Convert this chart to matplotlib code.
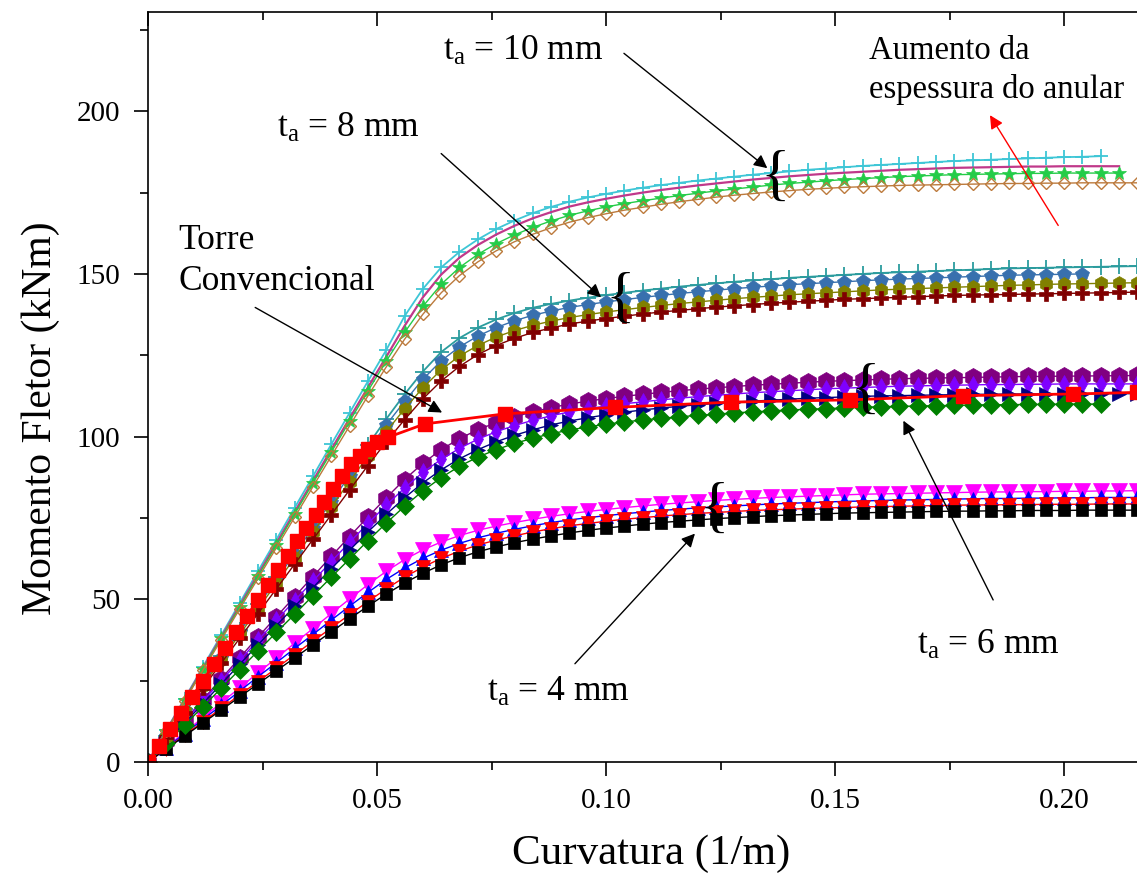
import matplotlib
matplotlib.use('Agg')
import matplotlib.pyplot as plt

plt.rcParams['font.family'] = ['Liberation Serif', 'DejaVu Serif']
plt.rcParams['mathtext.fontset'] = 'custom'
plt.rcParams['mathtext.rm'] = 'Liberation Serif'
plt.rcParams['mathtext.it'] = 'Liberation Serif:italic'

# curvature grid shared by the numerical curves (1/m)
curv = [0.000, 0.004, 0.008, 0.012, 0.016, 0.020, 0.024, 0.028, 0.032, 0.036,
        0.040, 0.044, 0.048, 0.052, 0.056, 0.060, 0.064, 0.068, 0.072, 0.076,
        0.080, 0.084, 0.088, 0.092, 0.096, 0.100, 0.104, 0.108, 0.112, 0.116,
        0.120, 0.124, 0.128, 0.132, 0.136, 0.140, 0.144, 0.148, 0.152, 0.156,
        0.160, 0.164, 0.168, 0.172, 0.176, 0.180, 0.184, 0.188, 0.192, 0.196,
        0.200, 0.204, 0.208, 0.212, 0.216]

# t_a = 10 mm (kNm)
t10_a = [0, 9.8, 19.5, 29.3, 39.0, 48.8, 58.6, 68.3, 78.1, 87.8, 97.6, 107.3, 117.0, 126.6, 137.0,
         145.4, 152.0, 156.8, 160.6, 163.8, 166.4, 168.7, 170.6, 172.2, 173.5, 174.6, 175.6, 176.5,
         177.3, 178.0, 178.7, 179.3, 179.9, 180.5, 181.0, 181.5, 182.0, 182.4, 182.8, 183.2, 183.5,
         183.8, 184.1, 184.4, 184.7, 184.9, 185.1, 185.3, 185.5, 185.7, 185.9, 186.0, 186.2]
t10_b = [0, 9.6, 19.2, 28.8, 38.4, 48.0, 57.6, 67.2, 76.8, 86.4, 96.0, 105.6, 115.1, 124.5, 134.0,
         142.8, 149.8, 155.0, 158.9, 162.1, 164.8, 167.1, 169.0, 170.7, 172.0, 173.1, 174.1, 175.0,
         175.8, 176.5, 177.2, 177.8, 178.4, 179.0, 179.5, 180.0, 180.4, 180.8, 181.1, 181.4, 181.7,
         182.0, 182.2, 182.4, 182.6, 182.7, 182.8, 182.9, 183.0, 183.0, 183.1, 183.1, 183.1, 183.1]
t10_c = [0, 9.5, 19.0, 28.6, 38.1, 47.6, 57.1, 66.6, 76.2, 85.7, 95.2, 104.7, 114.0, 123.2, 132.0,
         140.0, 146.8, 152.0, 156.0, 159.3, 162.0, 164.3, 166.3, 168.0, 169.4, 170.6, 171.6, 172.5,
         173.3, 174.1, 174.8, 175.5, 176.1, 176.7, 177.3, 177.8, 178.2, 178.6, 179.0, 179.3, 179.6,
         179.9, 180.1, 180.3, 180.5, 180.6, 180.7, 180.8, 180.9, 180.9, 181.0, 181.0, 181.0, 181.0]
t10_d = [0, 9.4, 18.8, 28.2, 37.6, 47.0, 56.4, 65.8, 75.2, 84.6, 94.0, 103.3, 112.5, 121.4, 129.9,
         137.6, 144.2, 149.5, 153.7, 157.1, 159.9, 162.2, 164.2, 165.9, 167.3, 168.5, 169.6, 170.5,
         171.4, 172.2, 172.9, 173.6, 174.2, 174.7, 175.2, 175.6, 176.0, 176.3, 176.6, 176.8, 177.0,
         177.2, 177.3, 177.4, 177.5, 177.6, 177.7, 177.8, 177.8, 177.9, 177.9, 178.0, 178.0, 178.0, 178.0]

# t_a = 8 mm
t8_a = [0, 8.1, 16.2, 24.4, 32.5, 40.6, 48.7, 56.8, 65.0, 73.1, 81.2, 89.3, 97.4, 105.4, 113.0,
        120.0, 126.0, 130.3, 133.5, 136.0, 138.0, 139.6, 140.8, 141.8, 142.7, 143.5, 144.2, 144.9,
        145.5, 146.1, 146.6, 147.1, 147.6, 148.0, 148.4, 148.8, 149.1, 149.4, 149.7, 150.0, 150.3,
        150.5, 150.7, 150.9, 151.1, 151.3, 151.5, 151.7, 151.8, 151.9, 152.0, 152.1, 152.2, 152.3, 152.4]
t8_b = [0, 8.0, 16.0, 24.0, 32.0, 40.0, 48.0, 56.0, 64.0, 72.0, 80.0, 88.0, 95.9, 103.6, 110.8,
        117.6, 123.3, 127.6, 130.9, 133.5, 135.6, 137.3, 138.6, 139.7, 140.6, 141.4, 142.1, 142.8,
        143.4, 144.0, 144.5, 145.0, 145.5, 145.9, 146.3, 146.7, 147.0, 147.3, 147.6, 147.9, 148.2,
        148.4, 148.6, 148.8, 149.0, 149.2, 149.4, 149.6, 149.7, 149.8, 149.9, 150.0]
t8_c = [0, 7.8, 15.7, 23.5, 31.4, 39.2, 47.0, 54.9, 62.7, 70.6, 78.4, 86.2, 94.0, 101.5, 108.5,
        115.0, 120.5, 124.8, 128.0, 130.6, 132.6, 134.2, 135.5, 136.6, 137.5, 138.3, 139.0, 139.7,
        140.3, 140.9, 141.4, 141.9, 142.4, 142.8, 143.2, 143.6, 143.9, 144.2, 144.5, 144.8, 145.1,
        145.3, 145.5, 145.7, 145.9, 146.1, 146.3, 146.5, 146.6, 146.8, 146.9, 147.0, 147.1, 147.2, 147.3]
t8_d = [0, 7.6, 15.2, 22.8, 30.4, 38.0, 45.6, 53.2, 60.8, 68.4, 76.0, 83.6, 91.1, 98.4, 105.2,
        111.6, 117.1, 121.6, 125.2, 128.0, 130.2, 132.0, 133.4, 134.6, 135.5, 136.3, 137.0, 137.7,
        138.3, 138.8, 139.3, 139.8, 140.2, 140.6, 141.0, 141.3, 141.6, 141.9, 142.2, 142.4, 142.6,
        142.8, 143.0, 143.2, 143.4, 143.5, 143.6, 143.7, 143.8, 143.9, 144.0, 144.1, 144.2, 144.3, 144.4]

# t_a = 6 mm
t6_a = [0, 6.4, 12.8, 19.2, 25.6, 32.0, 38.4, 44.6, 50.8, 57.0, 63.2, 69.3, 75.3, 81.2, 86.8,
        91.8, 96.0, 99.4, 102.1, 104.3, 106.1, 107.6, 108.9, 110.0, 110.9, 111.7, 112.4, 113.0,
        113.6, 114.1, 114.6, 115.0, 115.4, 115.8, 116.1, 116.4, 116.7, 117.0, 117.2, 117.4, 117.6,
        117.8, 117.9, 118.0, 118.1, 118.2, 118.3, 118.4, 118.5, 118.5, 118.6, 118.6, 118.7, 118.7, 118.8]
t6_b = [0, 6.2, 12.5, 18.7, 25.0, 31.2, 37.4, 43.5, 49.6, 55.6, 61.6, 67.5, 73.3, 78.9, 84.2,
        89.0, 93.0, 96.4, 99.2, 101.5, 103.4, 105.0, 106.4, 107.6, 108.6, 109.4, 110.1, 110.7,
        111.3, 111.8, 112.3, 112.7, 113.1, 113.5, 113.8, 114.1, 114.4, 114.7, 114.9, 115.1, 115.3,
        115.5, 115.6, 115.7, 115.8, 115.9, 116.0, 116.0, 116.1, 116.1, 116.2, 116.2, 116.2, 116.2, 116.2]
t6_c = [0, 6.0, 12.0, 18.0, 24.0, 30.0, 36.0, 41.9, 47.8, 53.6, 59.4, 65.1, 70.7, 76.1, 81.2,
        85.8, 89.8, 93.2, 96.0, 98.4, 100.4, 102.1, 103.6, 104.8, 105.8, 106.7, 107.5, 108.2,
        108.8, 109.3, 109.8, 110.2, 110.6, 110.9, 111.2, 111.5, 111.8, 112.0, 112.2, 112.4, 112.5,
        112.6, 112.7, 112.8, 112.9, 113.0, 113.0, 113.1, 113.1, 113.1, 113.2, 113.2, 113.2, 113.2, 113.2]
t6_d = [0, 5.7, 11.4, 17.0, 22.7, 28.4, 34.1, 39.8, 45.4, 51.1, 56.8, 62.4, 68.0, 73.4, 78.6,
        83.3, 87.4, 90.9, 93.7, 96.0, 97.9, 99.5, 100.9, 102.0, 103.0, 103.8, 104.5, 105.1,
        105.6, 106.1, 106.5, 106.9, 107.3, 107.6, 107.9, 108.2, 108.4, 108.6, 108.8, 109.0, 109.2,
        109.3, 109.4, 109.5, 109.6, 109.7, 109.8, 109.8, 109.9, 109.9, 110.0, 110.0, 110.0]

# t_a = 4 mm
t4_a = [0, 4.6, 9.1, 13.7, 18.2, 22.8, 27.4, 31.9, 36.5, 41.0, 45.6, 50.1, 54.5, 58.6, 62.2,
        65.2, 67.6, 69.6, 71.2, 72.5, 73.6, 74.6, 75.5, 76.3, 77.0, 77.6, 78.2, 78.7, 79.2, 79.6,
        80.0, 80.4, 80.7, 81.0, 81.3, 81.5, 81.7, 81.9, 82.1, 82.3, 82.4, 82.5, 82.6, 82.7, 82.8,
        82.9, 83.0, 83.0, 83.1, 83.1, 83.2, 83.2, 83.3, 83.3, 83.4]
t4_b = [0, 4.4, 8.7, 13.1, 17.4, 21.8, 26.2, 30.5, 34.9, 39.2, 43.6, 47.9, 52.1, 56.1, 59.6,
        62.6, 65.1, 67.2, 68.9, 70.3, 71.5, 72.6, 73.6, 74.4, 75.1, 75.7, 76.3, 76.8, 77.3, 77.7,
        78.1, 78.4, 78.7, 79.0, 79.3, 79.5, 79.7, 79.9, 80.1, 80.2, 80.4, 80.5, 80.6, 80.7, 80.8,
        80.9, 81.0, 81.0, 81.1, 81.1, 81.2, 81.2, 81.3, 81.3, 81.3]
t4_c = [0, 4.1, 8.2, 12.4, 16.5, 20.6, 24.7, 28.8, 33.0, 37.1, 41.2, 45.3, 49.3, 53.2, 56.8,
        59.9, 62.6, 64.8, 66.7, 68.2, 69.5, 70.7, 71.7, 72.6, 73.3, 74.0, 74.6, 75.1, 75.6, 76.0,
        76.4, 76.7, 77.0, 77.3, 77.5, 77.7, 77.9, 78.1, 78.2, 78.4, 78.5, 78.6, 78.7, 78.8, 78.9,
        79.0, 79.0, 79.1, 79.1, 79.2, 79.2, 79.2, 79.3, 79.3, 79.3]
t4_d = [0, 4.0, 8.0, 12.0, 16.0, 20.0, 24.0, 28.0, 32.0, 36.0, 40.0, 44.0, 47.9, 51.6, 55.0,
        58.0, 60.6, 62.8, 64.6, 66.1, 67.4, 68.5, 69.5, 70.4, 71.2, 71.9, 72.5, 73.1, 73.6, 74.0,
        74.4, 74.8, 75.1, 75.4, 75.7, 75.9, 76.1, 76.3, 76.5, 76.6, 76.7, 76.8, 76.9, 77.0, 77.1,
        77.1, 77.2, 77.2, 77.3, 77.3, 77.3, 77.4, 77.4, 77.4, 77.4]

# torre convencional
conv_x = [0.000, 0.0024, 0.0048, 0.0072, 0.0096, 0.0120, 0.0144, 0.0168, 0.0192, 0.0216, 0.0240,
          0.0262, 0.0284, 0.0305, 0.0326, 0.0346, 0.0366, 0.0385, 0.0404, 0.0424, 0.0444, 0.0462,
          0.0480, 0.0500, 0.0524, 0.0604, 0.0779, 0.1020, 0.1273, 0.1532, 0.1780, 0.2019, 0.2160]
conv_y = [0, 5.0, 10.0, 15.0, 20.0, 25.0, 30.0, 34.9, 39.9, 44.9, 49.9, 54.5, 59.1, 63.4, 67.8,
          71.9, 76.0, 79.9, 83.9, 87.8, 91.6, 94.0, 96.2, 98.2, 99.8, 103.9, 107.0, 109.0, 110.6,
          111.3, 112.6, 113.1, 113.6]

fig = plt.figure(figsize=(11.37, 8.82), dpi=100)
ax = fig.add_axes([148/1137, 1 - 762/882, 989/1137, 750/882])

series = [
    (t4_a, '#FF00FF', 'v', 12, 1.0), (t4_b, '#0000FF', '^', 10, 1.0),
    (t4_c, '#FF0000', 'v', 10, 1.0), (t4_d, '#000000', 's', 9, 1.0),
    (t6_a, '#800080', 'h', 13, 1.0), (t6_b, '#7F00FF', 'd', 9, 1.0),
    (t6_c, '#000080', '>', 10, 1.0), (t6_d, '#008000', 'D', 9, 1.0),
    (t8_a, '#2B9C9E', '+', 11, 1.3), (t8_b, '#3870AE', 'p', 10, 1.0),
    (t8_c, '#808000', 'h', 10, 1.0), (t8_d, '#800000', 'P', 10, 1.0),
    (t10_a, '#3EC6D6', '+', 10, 1.3), (t10_b, '#C0388A', None, 0, 1.6),
    (t10_c, '#24CC48', '*', 10, 1.0), (t10_d, '#BC7A3C', 'D', 6, 1.0),
]
for y, c, m, ms, lw in series:
    x = curv[:len(y)]
    if m == 'D' and ms < 7:
        ax.plot(x, y, color=c, lw=lw, marker=m, ms=ms, mfc='none', mew=1)
    elif m == '+':
        ax.plot(x, y, color=c, lw=lw, marker=m, ms=ms, mew=1.3)
    else:
        ax.plot(x, y, color=c, lw=lw, marker=m, ms=ms, mew=0.5)

ax.plot(conv_x, conv_y, color='#FF0000', lw=2, marker='s', ms=10)

ax.set_xlim(0, 0.2159)
ax.set_ylim(0, 230.5)
ax.set_xticks([0, 0.05, 0.10, 0.15, 0.20])
ax.set_xticklabels(['0.00', '0.05', '0.10', '0.15', '0.20'])
ax.set_xticks([0.025, 0.075, 0.125, 0.175], minor=True)
ax.set_yticks([0, 50, 100, 150, 200])
ax.set_yticks([25, 75, 125, 175, 225], minor=True)
ax.spines['right'].set_visible(False)
for s in ax.spines.values():
    s.set_linewidth(1.2)
ax.tick_params(axis='both', which='major', direction='out', length=10, width=1.2, labelsize=21)
ax.tick_params(axis='both', which='minor', direction='out', length=6, width=1.2)
ax.tick_params(axis='x', pad=9)
ax.tick_params(axis='y', pad=10)
ax.tick_params(axis='x', which='both', top=True)
# top ticks point inward
for t in ax.xaxis.get_major_ticks() + ax.xaxis.get_minor_ticks():
    t.tick2line.set_marker(matplotlib.lines.TICKDOWN)

ax.set_xlabel('Curvatura (1/m)', fontsize=31)
ax.set_ylabel('Momento Fletor (kNm)', fontsize=30)
ax.xaxis.set_label_coords(0.509, -0.097)
ax.yaxis.set_label_coords(-0.089, 0.458)

ta = r'$\mathregular{t_a}$'
fs = 25.5
ax.text(0.0644, 215.7, ta + ' = 10 mm', fontsize=fs)
ax.text(0.0282, 192.0, ta + ' = 8 mm', fontsize=fs)
ax.text(0.1679, 33.2, ta + ' = 6 mm', fontsize=fs)
ax.text(0.0740, 18.8, ta + ' = 4 mm', fontsize=fs)
ax.text(0.00655, 157.8, 'Torre', fontsize=fs)
ax.text(0.00655, 145.0, 'Convencional', fontsize=fs)
ax.text(0.1574, 216.0, 'Aumento da', fontsize=23.5)
ax.text(0.1574, 204.0, 'espessura do anular', fontsize=23.5)

arrows = [((0.1039, 217.8), (0.1352, 182.5), 'k'),
          ((0.0640, 187.0), (0.0989, 142.8), 'k'),
          ((0.0234, 139.7), (0.0642, 107.4), 'k'),
          ((0.1845, 49.8), (0.1649, 104.9), 'k'),
          ((0.0932, 30.2), (0.1194, 70.2), 'k'),
          ((0.1987, 164.9), (0.1838, 198.8), '#FF0000')]
for tail, head, c in arrows:
    ax.annotate('', xy=head, xytext=tail,
                arrowprops=dict(arrowstyle='-|>', color=c, lw=1, mutation_scale=20,
                                shrinkA=0, shrinkB=0))

for bx, by in [(0.1369, 179.0), (0.1031, 141.8), (0.1566, 113.8), (0.1236, 77.2)]:
    ax.text(bx, by, '{', fontsize=44, ha='center', va='center')

fig.savefig('out.png', dpi=100)
